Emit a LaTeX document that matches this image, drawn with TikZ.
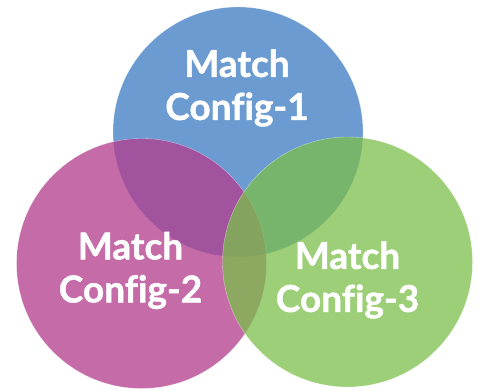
\documentclass[tikz,border=0pt]{standalone}
\usepackage{fontspec}
\setsansfont{Lato}[Ligatures=NoCommon, BoldFeatures={FakeBold=1.2}]
\usepackage{tikz}
\definecolor{cfgblue}{RGB}{107,155,209}
\definecolor{cfgpink}{RGB}{178,62,142}
\definecolor{cfggreen}{RGB}{123,191,74}
\tikzset{%
  blob/.style   = {shape=circle, minimum size=250pt, inner sep=0pt,%
                   draw=white, draw opacity=0.5, line width=0.4pt},%
  cfgtext/.style = {align=center, text=white, inner sep=0pt,%
                   font=\sffamily\bfseries\fontsize{37}{43}\selectfont}%
}

\begin{document}
\begin{tikzpicture}[x=1pt,y=1pt]
	\useasboundingbox (0,0) rectangle (478,390);
	% the three circles
	\node [blob, fill=cfgblue] (c1) at (238,258) {};
	\node [blob, fill=cfgpink, fill opacity=0.77] (c2) at (141.5,126.5) {};
	\node [blob, fill=cfggreen, fill opacity=0.75] (c3) at (347.5,128) {};
	% labels
	\node [cfgtext] (t1) at ([xshift=-1pt,yshift=44pt]c1.center) {Match\\Config-1};
	\node [cfgtext] (t2) at ([xshift=-11pt,yshift=-7pt]c2.center) {Match\\Config-2};
	\node [cfgtext] (t3) at ([xshift=0pt,yshift=-18pt]c3.center) {Match\\Config-3};
\end{tikzpicture}
\end{document}
